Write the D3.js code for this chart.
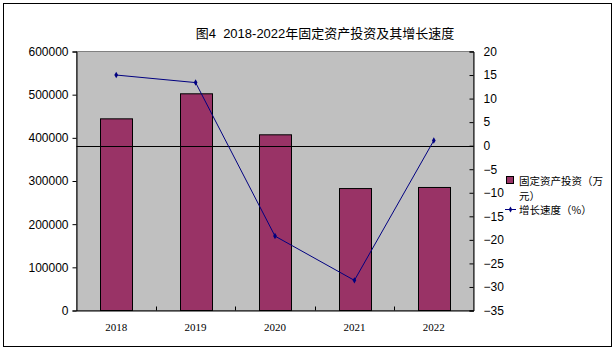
<!DOCTYPE html>
<html><head><meta charset="utf-8">
<script src="https://cdn.jsdelivr.net/npm/d3@7"></script>
<style>body{margin:0;background:#fff;} svg{display:block;}</style>
</head><body>
<svg id="c" width="615" height="352"></svg>
<script>
const years = ["2018","2019","2020","2021","2022"];
const investment = [444000, 502000, 407000, 282500, 285000];
const growth = [15.0, 13.4, -19.2, -28.6, 1.1];
const leftTicks = [0,100000,200000,300000,400000,500000,600000];
const rightTicks = [20,15,10,5,0,-5,-10,-15,-20,-25,-30,-35];
const title = "图4  2018-2022年固定资产投资及其增长速度";
const legendBar = ["固定资产投资（万", "元）"];
const legendLine = "增长速度（%）";

const svg = d3.select("#c");
const L = 76.5, R = 473.5, T = 51.5, B = 310.5;
svg.append("rect").attr("x",3.5).attr("y",3.5).attr("width",608).attr("height",343).attr("fill","#fff").attr("stroke","#000").attr("stroke-width",1);

const x = d3.scaleBand().domain(years).range([L,R]).paddingInner(0.6).paddingOuter(0.3);
const xb = d3.scaleBand().domain(years).range([L,R]);
const yL = d3.scaleLinear().domain([0,600000]).range([B,T]);
const yR = d3.scaleLinear().domain([-35,20]).range([B,T]);

svg.append("rect").attr("x",L).attr("y",T).attr("width",R-L).attr("height",B-T).attr("fill","#C0C0C0").attr("stroke","#808080");

svg.selectAll(".bar").data(investment).join("rect")
  .attr("x",(d,i)=>Math.round(x(years[i]))+0.5).attr("y",d=>yL(d))
  .attr("width",Math.round(x.bandwidth())).attr("height",d=>B-yL(d))
  .attr("fill","#993366").attr("stroke","#000").attr("stroke-width",1);

// zero line of right axis
svg.append("line").attr("x1",L).attr("x2",R).attr("y1",Math.round(yR(0))+0.5).attr("y2",Math.round(yR(0))+0.5).attr("stroke","#000");

// axes
const gl = svg.append("g").attr("transform",`translate(${L},0)`)
  .call(d3.axisLeft(yL).tickValues(leftTicks).tickSize(4).tickPadding(4).tickFormat(d3.format("d")));
const gr = svg.append("g").attr("transform",`translate(${R},0)`)
  .call(d3.axisRight(yR).tickValues(rightTicks).tickSize(-4).tickPadding(10).tickFormat(d3.format("d")));
const gx = svg.append("g").attr("transform",`translate(0,${B})`)
  .call(d3.axisBottom(xb).tickSize(0).tickPadding(13));
[gl,gr,gx].forEach(g=>{
  g.select(".domain").attr("stroke","#000");
  g.selectAll(".tick line").attr("stroke","#000");
});
gl.selectAll("text").attr("font-family","Arial, 'Liberation Sans', sans-serif").attr("font-size",12).attr("fill","#000");
gr.selectAll("text").attr("font-family","Arial, 'Liberation Sans', sans-serif").attr("font-size",12).attr("fill","#000");
gx.selectAll("text").attr("font-family","'Liberation Serif', 'DejaVu Serif', serif").attr("font-size",11).attr("fill","#000");
// category boundary ticks on x axis
svg.selectAll(".xt").data(years.slice(1)).join("line")
  .attr("x1",d=>Math.round(xb(d))+0.5).attr("x2",d=>Math.round(xb(d))+0.5)
  .attr("y1",B).attr("y2",B-4).attr("stroke","#000");

// line series
const line = d3.line().x((d,i)=>xb(years[i])+xb.bandwidth()/2).y(d=>yR(d));
svg.append("path").datum(growth).attr("d",line).attr("fill","none").attr("stroke","#000080").attr("stroke-width",1);
svg.selectAll(".mk").data(growth).join("path")
  .attr("transform",(d,i)=>`translate(${xb(years[i])+xb.bandwidth()/2},${yR(d)})`)
  .attr("d",d3.symbol(d3.symbolDiamond,12)).attr("fill","#000080");

// title
svg.append("text").attr("x",325).attr("y",38).attr("text-anchor","middle")
  .style("white-space","pre")
  .attr("font-family","Arial, 'Liberation Sans', 'Noto Sans CJK SC', sans-serif").attr("font-size",13).attr("fill","#000").text(title);

// legend
const lf = "'Noto Sans CJK SC', sans-serif";
svg.append("rect").attr("x",506.5).attr("y",176.5).attr("width",7).attr("height",7).attr("fill","#993366").attr("stroke","#000");
svg.selectAll(".lg").data(legendBar).join("text").attr("x",519).attr("y",(d,i)=>184.5+i*15)
  .attr("font-family",lf).attr("font-size",10.5).attr("fill","#000").text(d=>d);
svg.append("line").attr("x1",505).attr("x2",516).attr("y1",209.5).attr("y2",209.5).attr("stroke","#000080");
svg.append("path").attr("transform","translate(510.5,209.5)").attr("d",d3.symbol(d3.symbolDiamond,10)).attr("fill","#000080");
svg.append("text").attr("x",519).attr("y",214).attr("font-family",lf).attr("font-size",10.5).attr("fill","#000").text(legendLine);
</script>
</body></html>
